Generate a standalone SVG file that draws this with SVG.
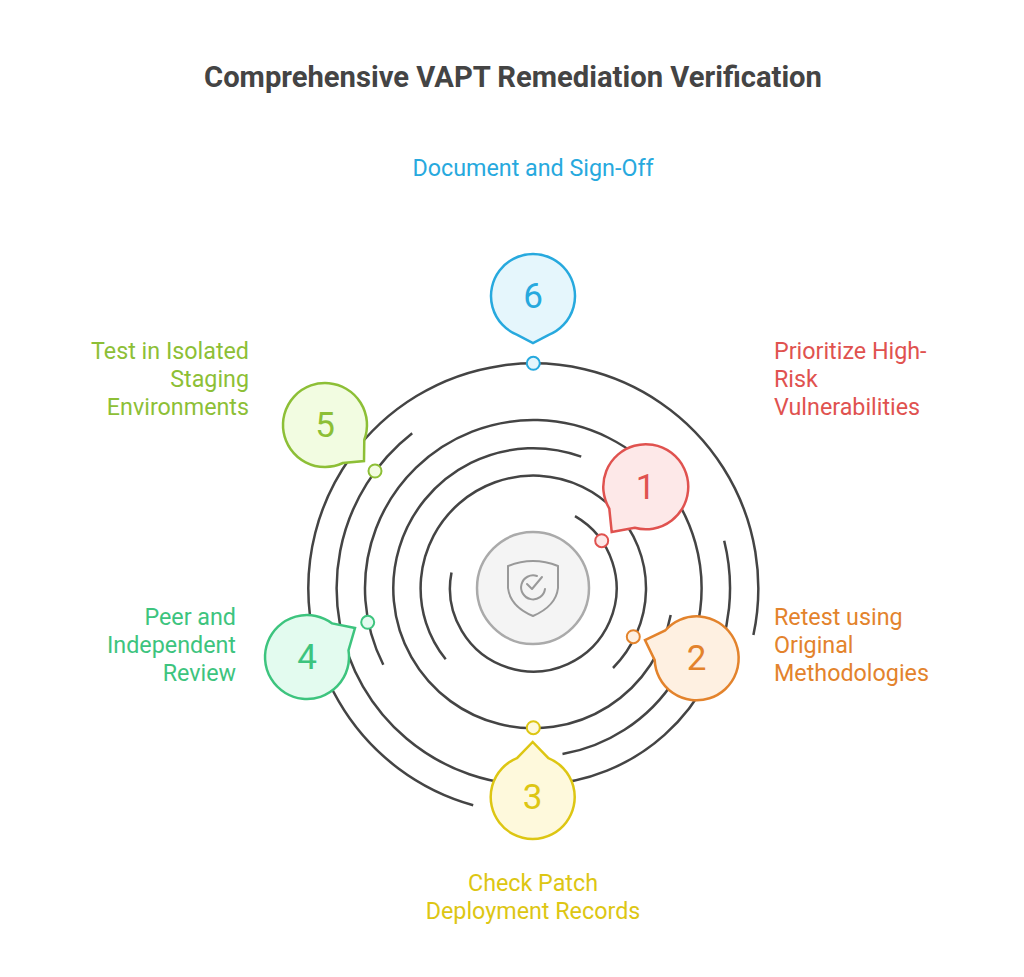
<svg xmlns="http://www.w3.org/2000/svg" width="1024" height="977" viewBox="0 0 1024 977">
<style>
.t{font-family:Roboto,"Liberation Sans",Arial,sans-serif;font-size:23.3px}
.n{font-family:Roboto,"Liberation Sans",Arial,sans-serif;font-size:35px;text-anchor:middle}
.ring{fill:none;stroke:#444;stroke-width:2.5}
.b{stroke-width:2.5}
</style>
<rect width="1024" height="977" fill="#fff"/>
<text x="513" y="87" text-anchor="middle" style="font-family:Roboto,'Liberation Sans',Arial,sans-serif;font-size:29.2px;font-weight:bold" fill="#444">Comprehensive VAPT Remediation Verification</text>
<g id="connectors">
<path class="ring" d="M575,516.2 A83.3,83.3 0 1 1 451.5,572.4"/>
<path class="ring" d="M445.7,659.2 A112.7,112.7 0 1 1 613,668"/>
<path class="ring" d="M670.7,615 A140,140 0 1 1 581.2,456.7"/>
<path class="ring" d="M383.3,664.7 A168.3,168.3 0 1 1 562.5,754.1"/>
<path class="ring" d="M724.2,540.7 A196.7,196.7 0 1 1 412.2,433.3"/>
<path class="ring" d="M473.2,805.2 A225,225 0 1 1 753.4,635.1"/>
</g>
<g id="center">
<circle cx="533" cy="588" r="56" fill="#f4f4f4" stroke="#aaa" stroke-width="2.5"/>
<path d="M508,566 Q533,556 558,566 L558,588 Q556,606 533,616 Q510,606 508,588 Z" fill="none" stroke="#999" stroke-width="2" stroke-linejoin="round"/>
<path d="M545,589 A12,12 0 1 1 537,576" fill="none" stroke="#999" stroke-width="2" stroke-linecap="round"/>
<path d="M527,584 L532,589 L542,577" fill="none" stroke="#999" stroke-width="2" stroke-linecap="round" stroke-linejoin="round"/>
</g>
<g id="node1">
<path class="b" d="M609.3,508.6 A42.5,42.5 0 1 1 634.7,527.8 L611.7,532 Z" fill="#FDE8E8" stroke="#E0524F"/>
<circle cx="601.7" cy="540.7" r="6.5" fill="#FDE8E8" stroke="#E0524F" stroke-width="2"/>
<text class="n" x="645.7" y="499" fill="#E0524F">1</text>
<text class="t" fill="#E0524F"><tspan x="774" y="359">Prioritize High-</tspan><tspan x="774" y="387">Risk</tspan><tspan x="774" y="415">Vulnerabilities</tspan></text>
</g>
<g id="node2">
<path class="b" d="M665.2,630.5 A42,42 0 1 1 654.7,660.1 L645,640 Z" fill="#FEF0E1" stroke="#E3832C"/>
<circle cx="633.3" cy="636.7" r="6.5" fill="#FEF0E1" stroke="#E3832C" stroke-width="2"/>
<text class="n" x="696.7" y="670" fill="#E3832C">2</text>
<text class="t" fill="#E3832C"><tspan x="774" y="625">Retest using</tspan><tspan x="774" y="653">Original</tspan><tspan x="774" y="681">Methodologies</tspan></text>
</g>
<g id="node3">
<path class="b" d="M548.4,758.1 A42,42 0 1 1 517,758.1 L532.7,742 Z" fill="#FEF9DC" stroke="#DDC613"/>
<circle cx="533.3" cy="727.7" r="6.5" fill="#FEF9DC" stroke="#DDC613" stroke-width="2"/>
<text class="n" x="532.7" y="809" fill="#DDC613">3</text>
<text class="t" fill="#DDC613" text-anchor="middle"><tspan x="533" y="891">Check Patch</tspan><tspan x="533" y="919">Deployment Records</tspan></text>
</g>
<g id="node4">
<path class="b" d="M348.5,650.4 A42,42 0 1 1 332.2,623.4 L355,628 Z" fill="#E3FBEF" stroke="#3DC47E"/>
<circle cx="367.7" cy="622.3" r="6.5" fill="#E3FBEF" stroke="#3DC47E" stroke-width="2"/>
<text class="n" x="307" y="669" fill="#3DC47E">4</text>
<text class="t" fill="#3DC47E" text-anchor="end"><tspan x="236" y="625">Peer and</tspan><tspan x="236" y="653">Independent</tspan><tspan x="236" y="681">Review</tspan></text>
</g>
<g id="node5">
<path class="b" d="M342.9,463 A42,42 0 1 1 364.3,439.8 L364,461 Z" fill="#F2FCE1" stroke="#8DBF36"/>
<circle cx="375" cy="471" r="6.5" fill="#F2FCE1" stroke="#8DBF36" stroke-width="2"/>
<text class="n" x="325" y="437" fill="#8DBF36">5</text>
<text class="t" fill="#8DBF36" text-anchor="end"><tspan x="249" y="359">Test in Isolated</tspan><tspan x="249" y="387">Staging</tspan><tspan x="249" y="415">Environments</tspan></text>
</g>
<g id="node6">
<path class="b" d="M517.3,334.9 A42,42 0 1 1 548.7,334.9 L533,343 Z" fill="#E5F6FC" stroke="#27A9DE"/>
<circle cx="533.3" cy="363.3" r="6.5" fill="#E5F6FC" stroke="#27A9DE" stroke-width="2"/>
<text class="n" x="533" y="308" fill="#27A9DE">6</text>
<text class="t" fill="#27A9DE" text-anchor="middle" x="533" y="176">Document and Sign-Off</text>
</g>
</svg>
